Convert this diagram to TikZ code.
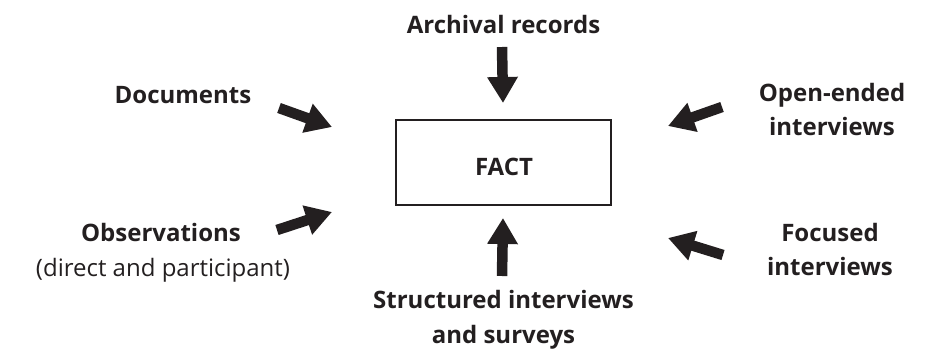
\documentclass[tikz,border=0pt]{standalone}
\usepackage{fontspec}
\setmainfont{Open Sans}
\usetikzlibrary{arrows.meta}
\definecolor{ink}{HTML}{231F20}
\begin{document}
\begin{tikzpicture}[x=1pt,y=1pt,
  lbl/.style={font=\fontsize{24}{35}\selectfont\bfseries, text=ink, anchor=base, inner sep=0pt},
  lblr/.style={font=\fontsize{24}{35}\selectfont, text=ink, anchor=base, inner sep=0pt},
  blockarrow/.style={draw=ink, line width=10.5pt, line cap=butt,
    -{Triangle[length=26pt,width=29pt]}},
  factbox/.style={draw=ink, line width=2.6pt, minimum width=215pt, minimum height=85pt, inner sep=0pt}]
\useasboundingbox (0,0) rectangle (934,349);
% central box
\node[factbox] (fact) at (503.5,186.5) {};
\node[lbl] (facttxt) at (504,174) {FACT};
% labels
\node[lbl] (arch) at (503.5,316) {Archival records};
\node[lbl] (doc) at (183,246) {Documents};
\node[lbl] (open1) at (832,248) {Open-ended};
\node[lbl] (open2) at (832,214) {interviews};
\node[lbl] (obs1) at (161,108) {Observations};
\node[lblr] (obs2) at (163,73) {(direct and participant)};
\node[lbl] (foc1) at (830,108) {Focused};
\node[lbl] (foc2) at (830,74) {interviews};
\node[lbl] (str1) at (503.5,41) {Structured interviews};
\node[lbl] (str2) at (503.5,6) {and surveys};
% arrow end points
\coordinate (aT) at (502,302); \coordinate (aTtip) at (503,246);
\coordinate (aB) at (502,73);  \coordinate (aBtip) at (503,131);
\coordinate (aD) at (279,241); \coordinate (aDtip) at (332,222);
\coordinate (aO) at (722,242); \coordinate (aOtip) at (668,223);
\coordinate (aS) at (277,119); \coordinate (aStip) at (332,137);
\coordinate (aF) at (723,94);  \coordinate (aFtip) at (668,111);
\draw[blockarrow] (aT) -- (aTtip);
\draw[blockarrow] (aB) -- (aBtip);
\draw[blockarrow] (aD) -- (aDtip);
\draw[blockarrow] (aO) -- (aOtip);
\draw[blockarrow] (aS) -- (aStip);
\draw[blockarrow] (aF) -- (aFtip);
\end{tikzpicture}
\end{document}
